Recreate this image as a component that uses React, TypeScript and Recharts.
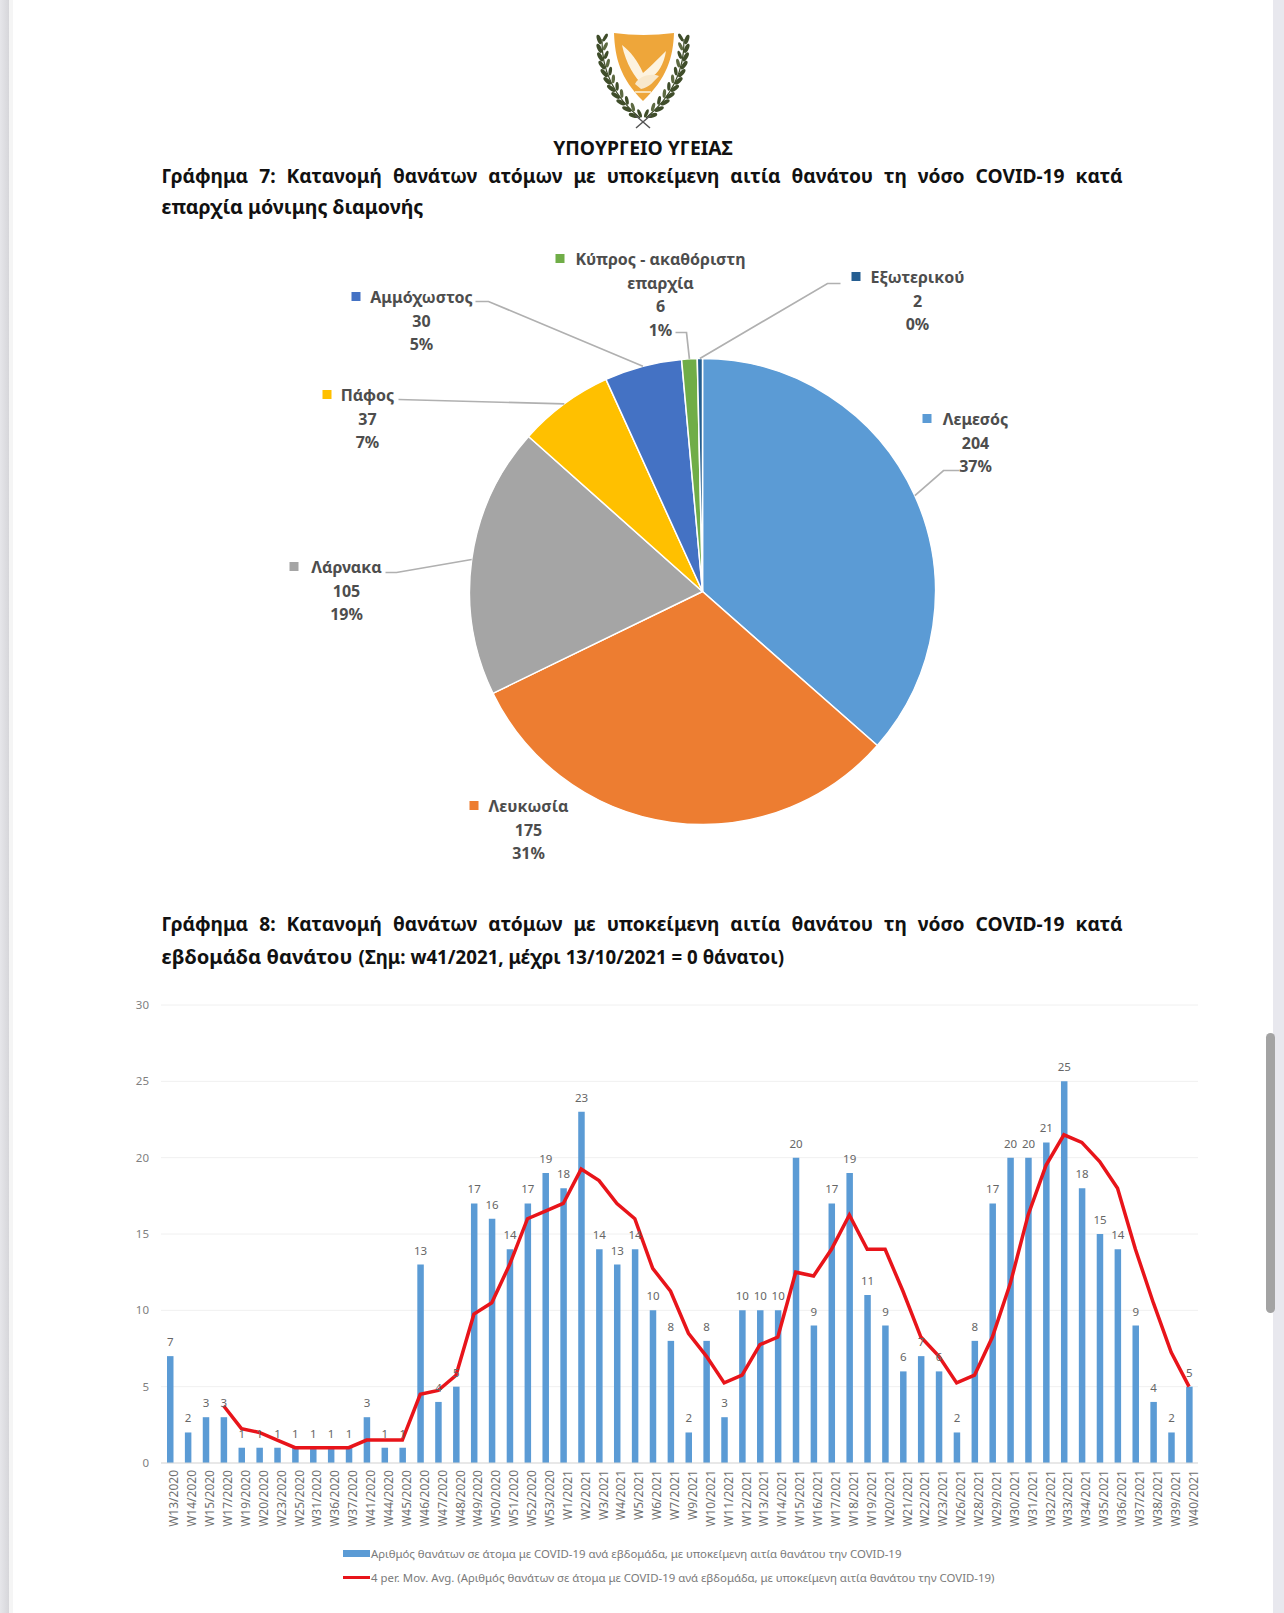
import React from "react";
import {
  PieChart, Pie, Cell, ComposedChart, Bar, Line, XAxis, YAxis, CartesianGrid, LabelList, Legend,
} from "recharts";

const FONT = "'Noto Sans', sans-serif";

// ---------- Pie data ----------
const regionNames = ["Λεμεσός", "Λευκωσία", "Λάρνακα", "Πάφος", "Αμμόχωστος", "Κύπρος - ακαθόριστη επαρχία", "Εξωτερικού"];
const regionValues = [204, 175, 105, 37, 30, 6, 2];
const regionPercents = ["37%", "31%", "19%", "7%", "5%", "1%", "0%"];
const regionColors = ["#5b9bd5", "#ed7d31", "#a5a5a5", "#ffc000", "#4472c4", "#70ad47", "#255e91"];
const regionLines = [["Λεμεσός"], ["Λευκωσία"], ["Λάρνακα"], ["Πάφος"], ["Αμμόχωστος"], ["Κύπρος - ακαθόριστη", "επαρχία"], ["Εξωτερικού"]];

// ---------- Weekly data ----------
const weeks = [
  "W13/2020", "W14/2020", "W15/2020", "W17/2020", "W19/2020", "W20/2020", "W23/2020", "W25/2020", "W31/2020", "W36/2020",
  "W37/2020", "W41/2020", "W44/2020", "W45/2020", "W46/2020", "W47/2020", "W48/2020", "W49/2020", "W50/2020", "W51/2020",
  "W52/2020", "W53/2020", "W1/2021", "W2/2021", "W3/2021", "W4/2021", "W5/2021", "W6/2021", "W7/2021", "W9/2021",
  "W10/2021", "W11/2021", "W12/2021", "W13/2021", "W14/2021", "W15/2021", "W16/2021", "W17/2021", "W18/2021", "W19/2021",
  "W20/2021", "W21/2021", "W22/2021", "W23/2021", "W26/2021", "W28/2021", "W29/2021", "W30/2021", "W31/2021", "W32/2021",
  "W33/2021", "W34/2021", "W35/2021", "W36/2021", "W37/2021", "W38/2021", "W39/2021", "W40/2021",
];
const deaths = [
  7, 2, 3, 3, 1, 1, 1, 1, 1, 1,
  1, 3, 1, 1, 13, 4, 5, 17, 16, 14,
  17, 19, 18, 23, 14, 13, 14, 10, 8, 2,
  8, 3, 10, 10, 10, 20, 9, 17, 19, 11,
  9, 6, 7, 6, 2, 8, 17, 20, 20, 21,
  25, 18, 15, 14, 9, 4, 2, 5,
];
const movingAvg = [
  null, null, null, 3.75, 2.25, 2, 1.5, 1, 1, 1,
  1, 1.5, 1.5, 1.5, 4.5, 4.75, 5.75, 9.75, 10.5, 13,
  16, 16.5, 17, 19.25, 18.5, 17, 16, 12.75, 11.25, 8.5,
  7, 5.25, 5.75, 7.75, 8.25, 12.5, 12.25, 14, 16.25, 14,
  14, 11.25, 8.25, 7, 5.25, 5.75, 8.25, 11.75, 16.25, 19.5,
  21.5, 21, 19.75, 18, 14, 10.5, 7.25, 5,
];
const yTicks = [0, 5, 10, 15, 20, 25, 30];
const barName = "Αριθμός θανάτων σε άτομα με COVID-19 ανά εβδομάδα, με υποκείμενη αιτία θανάτου την COVID-19";
const lineName = "4 per. Mov. Avg. (Αριθμός θανάτων σε άτομα με COVID-19 ανά εβδομάδα, με υποκείμενη αιτία θανάτου την COVID-19)";

const pieRows = regionNames.map((name, i) => ({ name, value: regionValues[i] }));
const weekRows = weeks.map((week, i) => ({ week, deaths: deaths[i], avg: movingAvg[i] }));

// Label placement relative to the pie centre, in pixels
const labelLayout = [
  { tx: 273, ty: -172.5, mx: 220, leader: [[241, -121], [257, -121]] },
  { tx: -174, ty: 214.5, mx: -233, leader: [] },
  { tx: -356, ty: -24.5, mx: -413, leader: [[-306, -19], [-317, -19]] },
  { tx: -335, ty: -196.5, mx: -380, leader: [[-304, -192]] },
  { tx: -281, ty: -294.5, mx: -351, leader: [[-214, -290], [-227, -290]] },
  { tx: -42, ty: -332.5, mx: -147, leader: [[-16, -259], [-27, -259]] },
  { tx: 215, ty: -314.5, mx: 149, leader: [[125, -308], [138, -308]] },
];

const PieLabel = (p: any) => {
  const l = labelLayout[p.index];
  const rad = (p.midAngle * Math.PI) / 180;
  const ex = p.cx + p.outerRadius * Math.cos(rad);
  const ey = p.cy - p.outerRadius * Math.sin(rad);
  const x = p.cx + l.tx;
  const y = p.cy + l.ty;
  const lines = [...regionLines[p.index], String(regionValues[p.index]), regionPercents[p.index]];
  const pts = [[ex, ey], ...l.leader.map(([a, b]) => [p.cx + a, p.cy + b])];
  return (
    <g>
      {pts.length > 1 && (
        <polyline points={pts.map((q) => q.join(",")).join(" ")} fill="none" stroke="#b0b0b0" strokeWidth={1.7} />
      )}
      <rect x={p.cx + l.mx} y={y - 5} width={9} height={9} fill={regionColors[p.index]} />
      {lines.map((t, i) => (
        <text key={i} x={x} y={y + i * 23.6} textAnchor="middle" dominantBaseline="central"
          fontFamily={FONT} fontWeight={700} fontSize={16} fill="#4d4d4d">{t}</text>
      ))}
    </g>
  );
};

const TwoRowLegend = () => (
  <div style={{ fontFamily: FONT, fontSize: 11.4, color: "#7a7a7a", lineHeight: "23.5px", whiteSpace: "nowrap" }}>
    <div style={{ display: "flex", alignItems: "center" }}>
      <span style={{ display: "inline-block", width: 27, height: 7, background: "#5b9bd5", marginRight: 1 }} />
      {barName}
    </div>
    <div style={{ display: "flex", alignItems: "center" }}>
      <span style={{ display: "inline-block", width: 27, height: 3, background: "#e8141a", marginRight: 1 }} />
      {lineName}
    </div>
  </div>
);

const branchSteps = [0, 1, 2, 3, 4, 5, 6, 7, 8, 9, 10];
const Branch = ({ flip }: { flip: boolean }) => (
  <g transform={flip ? "translate(120,0) scale(-1,1)" : undefined}>
    <path d="M19 11 Q18 58 57 90" fill="none" stroke="#3f4d2a" strokeWidth={1.2} />
    {branchSteps.map((s) => {
      const t = s / 10.5;
      const x = (1 - t) * (1 - t) * 19 + 2 * (1 - t) * t * 18 + t * t * 57;
      const y = (1 - t) * (1 - t) * 11 + 2 * (1 - t) * t * 58 + t * t * 90;
      const a = 90 - t * 55;
      return (
        <g key={s}>
          <ellipse cx={x - 2.8} cy={y + 0.5} rx={2.1} ry={5} transform={`rotate(${a - 110} ${x - 2.8} ${y + 0.5})`} fill="#3f4d2a" />
          <ellipse cx={x + 3.2} cy={y - 1.5} rx={1.7} ry={4.4} transform={`rotate(${a - 60} ${x + 3.2} ${y - 1.5})`} fill={s % 2 ? "#5d6a42" : "#3f4d2a"} />
        </g>
      );
    })}
  </g>
);

const Logo = () => (
  <svg width={120} height={110} viewBox="0 0 120 110" style={{ position: "absolute", left: 583, top: 28 }}>
    <path d="M31 5 Q60 9 91 5 C90 30 84 50 60 73 C37 50 32 30 31 5 Z" fill="#eea63a" />
    <path d="M39 17 C47 23 55 33 60 45 C66 40 74 32 83 23 C81 36 75 46 67 50 L60 57 C52 50 43 36 39 17 Z" fill="#fdf3df" />
    <path d="M52 56 C56 48 68 45 76 48 C72 52 66 60 58 61 Z" fill="#f8e8cb" />
    <path d="M52 64 L68 64" stroke="#f8e0b5" strokeWidth={2} />
    <Branch flip={false} />
    <Branch flip={true} />
    <path d="M52 87 L67 100 M68 87 L53 100" stroke="#555" strokeWidth={1.5} />
  </svg>
);

const titleStyle: React.CSSProperties = {
  position: "absolute", left: 161.5, width: 961, fontFamily: FONT, fontWeight: 700, fontSize: 19.2,
  color: "#111", lineHeight: "30px", whiteSpace: "nowrap",
};

export default function App() {
  return (
    <div style={{ position: "absolute", left: 0, top: 0, width: 1284, height: 1613, background: "#fff", overflow: "hidden" }}>
      <div style={{ position: "absolute", left: 0, top: 0, width: 9, height: 1613, background: "linear-gradient(90deg,#e6e6ea,#d6d6da)" }} />
      <div style={{ position: "absolute", left: 9, top: 0, width: 4, height: 1613, background: "#f5f5f5" }} />
      <div style={{ position: "absolute", left: 1273, top: 0, width: 11, height: 1613, background: "#e8e8ee" }} />
      <div style={{ position: "absolute", left: 1266, top: 1033, width: 9, height: 280, borderRadius: 5, background: "#a3a3a3" }} />

      <Logo />
      <div style={{ position: "absolute", left: 443, width: 400, top: 133, textAlign: "center", fontFamily: FONT, fontWeight: 700, fontSize: 19.3, lineHeight: "30px", color: "#111" }}>ΥΠΟΥΡΓΕΙΟ ΥΓΕΙΑΣ</div>

      <div style={{ ...titleStyle, top: 160.5, whiteSpace: "normal", textAlign: "justify", textAlignLast: "justify" }}>
        Γράφημα 7: Κατανομή θανάτων ατόμων με υποκείμενη αιτία θανάτου τη νόσο COVID-19 κατά
      </div>
      <div style={{ ...titleStyle, top: 192, fontSize: 19.6 }}>επαρχία μόνιμης διαμονής</div>

      <div style={{ position: "absolute", left: 0, top: 230 }}>
        <PieChart width={1284} height={660} margin={{ top: 0, right: 0, bottom: 0, left: 0 }}>
          <Pie data={pieRows} dataKey="value" nameKey="name" cx={702.5} cy={361.5} outerRadius={233} innerRadius={0}
            startAngle={90} endAngle={-270} stroke="#fff" strokeWidth={1.5}
            label={PieLabel} labelLine={false} isAnimationActive={false}>
            {pieRows.map((_, i) => <Cell key={i} fill={regionColors[i]} />)}
          </Pie>
        </PieChart>
      </div>

      <div style={{ ...titleStyle, top: 909, whiteSpace: "normal", textAlign: "justify", textAlignLast: "justify" }}>
        Γράφημα 8: Κατανομή θανάτων ατόμων με υποκείμενη αιτία θανάτου τη νόσο COVID-19 κατά
      </div>
      <div style={{ ...titleStyle, top: 941, fontSize: 20.2 }}>
        εβδομάδα θανάτου <span style={{ fontSize: 18.7, marginLeft: 1 }}>(Σημ: w41/2021, μέχρι 13/10/2021 = 0 θάνατοι)</span>
      </div>

      <div style={{ position: "absolute", left: 0, top: 980 }}>
        <ComposedChart width={1284} height={633} data={weekRows} barCategoryGap={0}
          margin={{ top: 25, right: 86, bottom: 80, left: 121 }}>
          <CartesianGrid horizontal vertical={false} stroke="#f0f0f0" />
          <XAxis dataKey="week" interval={0} angle={-90} textAnchor="end" height={70} tickLine={false}
            axisLine={{ stroke: "#d9d9d9" }} tickMargin={4}
            tick={{ fontFamily: FONT, fontSize: 12, fill: "#707070", dy: -3 }} />
          <YAxis width={40} domain={[0, 30]} ticks={yTicks} tickLine={false} axisLine={false} tickMargin={6}
            tick={{ fontFamily: FONT, fontSize: 11.5, fill: "#7f7f7f" }} />
          <Legend layout="horizontal" verticalAlign="middle" content={<TwoRowLegend />}
            wrapperStyle={{ position: "absolute", left: 343, top: 562, width: 800, height: 50 }} />
          <Bar dataKey="deaths" name={barName} fill="#5b9bd5" barSize={6.5} isAnimationActive={false}>
            <LabelList dataKey="deaths" position="top" offset={10} style={{ fontFamily: FONT, fontSize: 11.5, fill: "#666" }} />
          </Bar>
          <Line dataKey="avg" name={lineName} type="linear" stroke="#e8141a" strokeWidth={3.5} dot={false} connectNulls={false} isAnimationActive={false} />
        </ComposedChart>
      </div>
    </div>
  );
}
